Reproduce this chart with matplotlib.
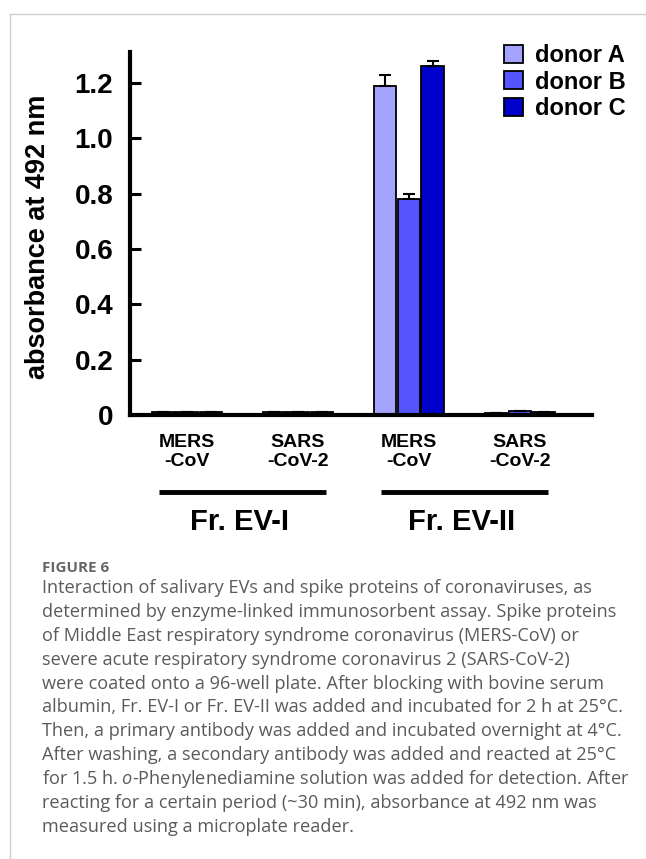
import numpy as np
import matplotlib
matplotlib.use("Agg")
import matplotlib.pyplot as plt
from matplotlib.lines import Line2D

plt.rcParams['font.family'] = ['Liberation Sans', 'DejaVu Sans']
plt.rcParams['mathtext.fontset'] = 'custom'
plt.rcParams['mathtext.rm'] = 'Open Sans'
plt.rcParams['mathtext.it'] = 'Open Sans:italic'

# data
groups = ["MERS\n-CoV", "SARS\n-CoV-2", "MERS\n-CoV", "SARS\n-CoV-2"]
donors = ["donor A", "donor B", "donor C"]
donor_a = [0.010, 0.010, 1.19, 0.008]
donor_b = [0.010, 0.012, 0.78, 0.014]
donor_c = [0.010, 0.011, 1.26, 0.010]
err_a = [0.0, 0.0, 0.04, 0.0]
err_b = [0.0, 0.0, 0.02, 0.0]
err_c = [0.0, 0.0, 0.02, 0.0]
fractions = ["Fr. EV-I", "Fr. EV-II"]
yticks = [0, 0.2, 0.4, 0.6, 0.8, 1.0, 1.2]
ytick_labels = ["0", "0.2", "0.4", "0.6", "0.8", "1.0", "1.2"]
colors = ["#a4a4ff", "#5555ff", "#0000cc"]

caption_title = "FIGURE 6"
caption_lines = [
    "Interaction of salivary EVs and spike proteins of coronaviruses, as",
    "determined by enzyme-linked immunosorbent assay. Spike proteins",
    "of Middle East respiratory syndrome coronavirus (MERS-CoV) or",
    "severe acute respiratory syndrome coronavirus 2 (SARS-CoV-2)",
    "were coated onto a 96-well plate. After blocking with bovine serum",
    "albumin, Fr. EV-I or Fr. EV-II was added and incubated for 2 h at 25°C.",
    "Then, a primary antibody was added and incubated overnight at 4°C.",
    "After washing, a secondary antibody was added and reacted at 25°C",
    r"for 1.5 h. $\mathit{o}$-Phenylenediamine solution was added for detection. After",
    "reacting for a certain period (~30 min), absorbance at 492 nm was",
    "measured using a microplate reader.",
]

W, H = 646, 859
fig = plt.figure(figsize=(W / 100, H / 100), dpi=100)

# frame lines of the page
fig.add_artist(Line2D([9.5 / W, 9.5 / W], [0, 1 - 13.5 / H], color="#cccccc", lw=1))
fig.add_artist(Line2D([9.5 / W, 1], [1 - 13.5 / H, 1 - 13.5 / H], color="#cccccc", lw=1))

ax = fig.add_axes([130 / W, 1 - 415 / H, 462 / W, 363 / H])

x = np.arange(len(groups))
w = 0.205
off = 0.215
for i, (vals, errs) in enumerate(zip([donor_a, donor_b, donor_c], [err_a, err_b, err_c])):
    ax.bar(x + (i - 1) * off, vals, w, color=colors[i], edgecolor="black", linewidth=1.3,
           label=donors[i],
           yerr=[np.zeros(len(errs)), errs] if any(errs) else None,
           error_kw=dict(ecolor="black", elinewidth=1.5, capsize=4, capthick=1.5))

ax.set_xlim(-0.515, 3.65)
ax.set_ylim(0, 1.312)
ax.set_yticks(yticks)
ax.set_yticklabels(ytick_labels, fontsize=20, fontweight="bold")
ax.set_xticks(x)
ax.set_xticklabels(groups, fontsize=14, fontweight="bold", linespacing=1.15)
ax.tick_params(axis="x", length=0, pad=14)
ax.tick_params(axis="y", direction="in", length=8, width=2.2, pad=12)
for s in ["top", "right"]:
    ax.spines[s].set_visible(False)
for s in ["left", "bottom"]:
    ax.spines[s].set_linewidth(3)
ax.set_ylabel("absorbance at 492 nm", fontsize=19.5, fontweight="bold")
ax.yaxis.set_label_coords(-0.17, 0.49)

# fraction brackets
tr = ax.get_xaxis_transform()
for k, name in enumerate(fractions):
    c = 0.5 + 2 * k
    ax.plot([c - 0.755, c + 0.755], [-0.212, -0.212], color="black", lw=3.5,
            transform=tr, clip_on=False, solid_capstyle="butt")
    ax.text(c - 0.03, -0.295, name, transform=tr, ha="center", va="center",
            fontsize=21, fontweight="bold")

ax.legend(loc="upper left", bbox_to_anchor=(504 / W, 1 - 44 / H), bbox_transform=fig.transFigure,
          frameon=False, prop=dict(weight="bold", size=17),
          handlelength=0.8, handleheight=0.8, handletextpad=0.5, labelspacing=0.15,
          borderaxespad=0, borderpad=0)

# caption
fig.text(42 / W, 1 - 568 / H, caption_title, fontsize=11, fontweight="bold", color="#666666",
         family="Open Sans", va="center")
for i, line in enumerate(caption_lines):
    fig.text(42 / W, 1 - (588 + i * 23.9) / H, line, fontsize=13.1, color="#5a5a5a",
             family="Open Sans", va="center")

fig.savefig("out.png", dpi=100)
